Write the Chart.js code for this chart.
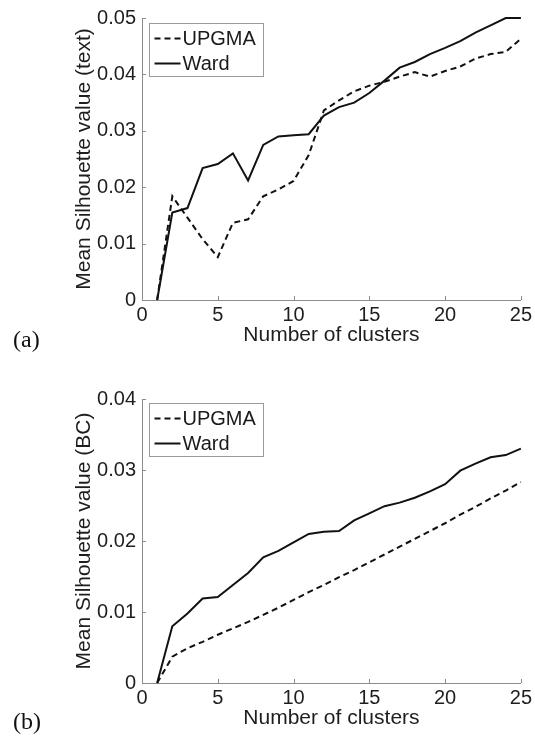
<!DOCTYPE html>
<html><head><meta charset="utf-8">
<script src="https://cdn.jsdelivr.net/npm/chart.js@4.4.0/dist/chart.umd.min.js"></script>
<style>
html,body{margin:0;padding:0;background:#fff;width:535px;height:737px;overflow:hidden;}
.panel{position:absolute;left:0;width:535px;}
#pa{top:0;height:370px;}
#pb{top:370px;height:367px;}
.tag{position:absolute;font-family:"Liberation Serif",serif;font-size:24px;color:#111;line-height:28px;}
</style></head><body>
<div class="panel" id="pa"><canvas id="ca"></canvas></div>
<div class="panel" id="pb"><canvas id="cb"></canvas></div>
<div class="tag" style="left:13px;top:325px">(a)</div>
<div class="tag" style="left:13px;top:707px">(b)</div>
<script>
const clusters = [1,2,3,4,5,6,7,8,9,10,11,12,13,14,15,16,17,18,19,20,21,22,23,24,25];
const seriesNames = ['UPGMA','Ward'];
const upgmaText = [0,0.0184,0.0146,0.0108,0.0076,0.0137,0.0143,0.0184,0.0196,0.0211,0.0257,0.0336,0.0354,0.0370,0.0380,0.0387,0.0396,0.0404,0.0396,0.0406,0.0414,0.0428,0.0436,0.0440,0.0463];
const wardText  = [0,0.0155,0.0163,0.0234,0.0241,0.0260,0.0212,0.0275,0.0290,0.0292,0.0294,0.0327,0.0342,0.0350,0.0367,0.0389,0.0412,0.0422,0.0436,0.0447,0.0459,0.0474,0.0487,0.0500,0.0500];
const upgmaBC = [0,0.0037,0.0049,0.0058,0.0068,0.0077,0.0086,0.0096,0.0106,0.0117,0.0128,0.0138,0.0149,0.0159,0.0170,0.0181,0.0192,0.0203,0.0214,0.0225,0.0237,0.0248,0.0260,0.0271,0.0283];
const wardBC  = [0,0.0080,0.0098,0.0119,0.0121,0.0138,0.0155,0.0177,0.0186,0.0198,0.0210,0.0213,0.0214,0.0229,0.0239,0.0249,0.0254,0.0261,0.0270,0.0280,0.0299,0.0309,0.0318,0.0321,0.0330];
const xTicks = [0,5,10,15,20,25];
const yTicksText = [0,0.01,0.02,0.03,0.04,0.05];
const yTicksBC = [0,0.01,0.02,0.03,0.04];
const xTitle = 'Number of clusters';
const yTitleText = 'Mean Silhouette value (text)';
const yTitleBC = 'Mean Silhouette value (BC)';

const FONT = '"Liberation Sans", Arial, sans-serif';
const AXIS = '#8c8c8c';

const matlabAxes = {
  id: 'matlabAxes',
  afterDatasetsDraw(chart, args, opts) {
    const {ctx, chartArea: a, scales: {x, y}} = chart;
    ctx.save();
    ctx.strokeStyle = AXIS; ctx.lineWidth = 1;
    ctx.beginPath();
    x.ticks.forEach(t => { const px = Math.round(x.getPixelForValue(t.value)) + 0.5; ctx.moveTo(px, a.bottom); ctx.lineTo(px, a.bottom - 4); });
    y.ticks.forEach(t => { const py = Math.round(y.getPixelForValue(t.value)) + 0.5; ctx.moveTo(a.left, py); ctx.lineTo(a.left + 4, py); });
    ctx.stroke();
    const bx = Math.round(a.left + 7) + 0.5, by = Math.round(a.top + opts.dy) + 0.5, bw = 114, bh = 53;
    ctx.fillStyle = '#fff'; ctx.fillRect(bx, by, bw, bh);
    ctx.strokeStyle = '#9a9a9a'; ctx.lineWidth = 1; ctx.strokeRect(bx, by, bw, bh);
    chart.data.datasets.forEach((ds, i) => {
      const cy = by + 15 + i * 25;
      ctx.beginPath(); ctx.setLineDash(ds.borderDash || []);
      ctx.strokeStyle = ds.borderColor; ctx.lineWidth = ds.borderWidth;
      ctx.moveTo(bx + 5, cy); ctx.lineTo(bx + 31, cy); ctx.stroke(); ctx.setLineDash([]);
      ctx.fillStyle = '#1a1a1a'; ctx.font = '20px ' + FONT; ctx.textBaseline = 'middle'; ctx.textAlign = 'left';
      ctx.fillText(ds.label, bx + 33, cy + 1);
    });
    ctx.restore();
  }
};

function makeChart(id, up, wa, yTicks, yTitle, pad, legendDy) {
  const H = document.getElementById(id).parentNode.clientHeight;
  return new Chart(document.getElementById(id), {
    type: 'line',
    data: {
      datasets: [
        {label: seriesNames[0], data: clusters.map((c, i) => ({x: c, y: up[i]})), borderColor: '#111', borderWidth: 2, borderDash: [6, 4], pointRadius: 0, tension: 0, clip: 6, fill: false},
        {label: seriesNames[1], data: clusters.map((c, i) => ({x: c, y: wa[i]})), borderColor: '#111', borderWidth: 2, pointRadius: 0, tension: 0, clip: 6, fill: false}
      ]
    },
    options: {
      responsive: true, maintainAspectRatio: false, animation: false,
      layout: {padding: {left: 72, right: 13, top: pad.top, bottom: pad.bottom}},
      plugins: {legend: {display: false}, tooltip: {enabled: false}, matlabAxes: {dy: legendDy}},
      scales: {
        x: {
          type: 'linear', min: xTicks[0], max: xTicks[xTicks.length - 1],
          afterBuildTicks: s => { s.ticks = xTicks.map(v => ({value: v})); },
          ticks: {padding: 3, color: '#1e1e1e', font: {family: FONT, size: 20}, maxRotation: 0, autoSkip: false, callback: v => String(v)},
          grid: {display: false, drawTicks: false, tickLength: 0},
          border: {display: true, color: AXIS, width: 1},
          title: {display: true, text: xTitle, color: '#1e1e1e', font: {family: FONT, size: 21}, padding: 0},
          afterFit: s => { s.height = H - pad.bottom - pad.plotBottom; }
        },
        y: {
          type: 'linear', min: yTicks[0], max: yTicks[yTicks.length - 1],
          afterBuildTicks: s => { s.ticks = yTicks.map(v => ({value: v})); },
          ticks: {padding: 6, color: '#1e1e1e', font: {family: FONT, size: 20}, autoSkip: false, callback: v => String(+v.toFixed(2))},
          grid: {display: false, drawTicks: false, tickLength: 0},
          border: {display: true, color: AXIS, width: 1},
          title: {display: true, text: yTitle, color: '#1e1e1e', font: {family: FONT, size: 21}, padding: 0},
          afterFit: s => { s.width = 70; }
        }
      }
    },
    plugins: [matlabAxes]
  });
}

makeChart('ca', upgmaText, wardText, yTicksText, yTitleText, {top: 15, bottom: 22, plotBottom: 300}, 5);
makeChart('cb', upgmaBC, wardBC, yTicksBC, yTitleBC, {top: 29, bottom: 6, plotBottom: 313}, 4);
</script>
</body></html>
